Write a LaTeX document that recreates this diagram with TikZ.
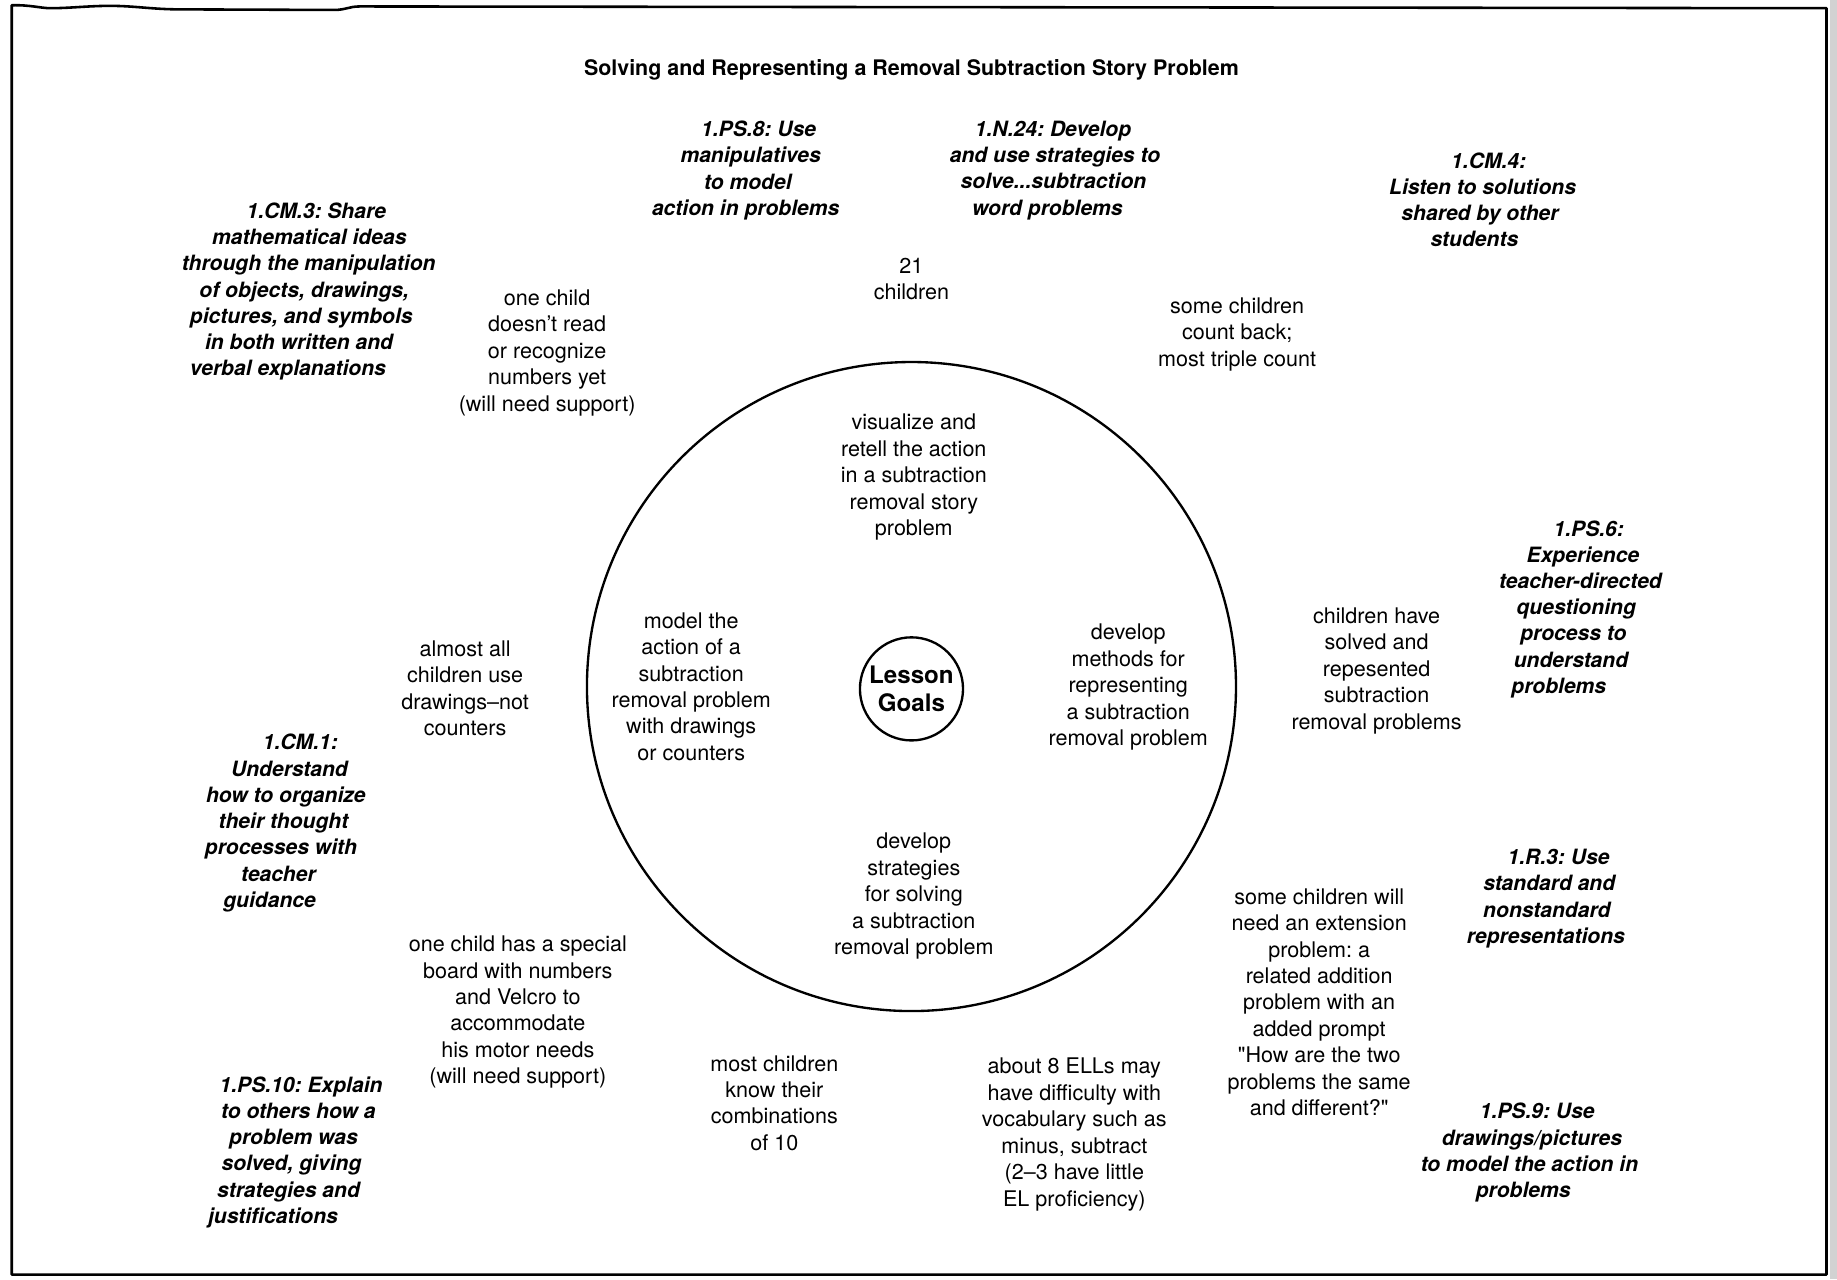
\documentclass[tikz,border=0pt]{standalone}
\usepackage{fontspec}
\newfontfamily\heros{TeX Gyre Heros}
\newdimen\upx \upx=0.5pt
\newcommand{\sh}[2]{\hspace*{#1\upx}#2\hspace*{-#1\upx}}
\tikzset{
  txt/.style={align=center, inner sep=0pt, font=\heros\frenchspacing\fontsize{9.2}{11.3}\selectfont},
  std/.style={align=center, inner sep=0pt, font=\heros\frenchspacing\fontsize{9}{11.2}\selectfont\bfseries\itshape},
  ttl/.style={inner sep=0pt, font=\heros\fontsize{9.15}{11}\selectfont\bfseries},
  ring/.style={circle, draw, line width=1pt, inner sep=0pt},
  frame/.style={line width=1.1pt, line join=round}
}
\begin{document}
\begin{tikzpicture}[x={(0.5pt,0)}, y={(0,-0.5pt)}]
\useasboundingbox (0,0) rectangle (1568,1092);
% frame with slightly wavy top edge, as scanned
\draw[frame] (10,1088) -- (10,4.5) .. controls (25,4) and (35,7) .. (43,7)
  .. controls (60,7) and (75,5) .. (94,5) .. controls (115,5) and (130,8) .. (154,8)
  -- (285,8.5) .. controls (295,8.5) and (298,5.5) .. (307,5.5) -- (1559,7) -- (1559,1088) -- cycle;
\fill[gray!35] (1562,0) rectangle (1568,1092);
% title
\node[ttl] (title) at (778,60) {Solving and Representing a Removal Subtraction Story Problem};
% circles
\node[ring, minimum size=277pt] (outer) at (778,586) {};
\node[ring, minimum size=44pt, font=\heros\fontsize{10.3}{12}\selectfont\bfseries, align=center] (lesson) at (778,588) {Lesson\\Goals};
% goals inside circle
\node[txt] (visualize) at (780,407.5) {visualize and\\retell the action\\in a subtraction\\removal story\\problem};
\node[txt] (model) at (590,586) {model the\\action of a\\subtraction\\removal problem\\with drawings\\or counters};
\node[txt] (methods) at (963,586.5) {develop\\methods for\\representing\\a subtraction\\removal problem};
\node[txt] (strategies) at (780,765) {develop\\strategies\\for solving\\a subtraction\\removal problem};
% student notes
\node[txt] (children21) at (778,238) {21\\children};
\node[txt] (onechild) at (467,301) {one child\\doesn’t read\\or recognize\\numbers yet\\(will need support)};
\node[txt] (countback) at (1056,285.5) {some children\\count back;\\most triple count};
\node[txt] (solved) at (1175,572.5) {children have\\solved and\\repesented\\subtraction\\removal problems};
\node[txt] (almost) at (397,587.5) {almost all\\children use\\drawings–not\\counters};
\node[txt] (extension) at (1126,855.5) {some children will\\need an extension\\problem: a\\related addition\\problem with an\\added prompt\\"How are the two\\problems the same\\and different?"};
\node[txt] (special) at (442,864) {one child has a special\\board with numbers\\and Velcro to\\accommodate\\his motor needs\\(will need support)};
\node[txt] (combos) at (661,941.5) {most children\\know their\\combinations\\of 10};
\node[txt] (ell) at (917,968.5) {about 8 ELLs may\\have difficulty with\\vocabulary such as\\minus, subtract\\(2–3 have little\\EL proficiency)};
% standards
\node[std] (ps8) at (636.5,145.5) {\sh{11}{1.PS.8: Use}\\\sh{8.4}{manipulatives}\\\sh{3.8}{to model}\\action in problems};
\node[std] (n24) at (900.5,145.5) {\sh{-1.7}{1.N.24: Develop}\\and use strategies to\\\sh{-2.6}{solve...subtraction}\\\sh{-6.5}{word problems}};
\node[std] (cm4) at (1265.5,170.5) {\sh{5.2}{1.CM.4:}\\Listen to solutions\\\sh{-4.4}{shared by other}\\\sh{-7}{students}};
\node[std] (cm3) at (263.5,249) {\sh{6.5}{1.CM.3: Share}\\\sh{1.1}{mathematical ideas}\\through the manipulation\\\sh{-7.6}{of objects, drawings,}\\\sh{-12.6}{pictures, and symbols}\\\sh{-16.4}{in both written and}\\\sh{-17.7}{verbal explanations}};
\node[std] (ps6) at (1349,520) {\sh{7.1}{1.PS.6:}\\\sh{4.3}{Experience}\\teacher-directed\\\sh{-7.1}{questioning}\\\sh{-12}{process to}\\\sh{-16.2}{understand}\\\sh{-18.5}{problems}};
\node[std] (cm1) at (244,702.5) {\sh{12.4}{1.CM.1:}\\\sh{6.1}{Understand}\\how to organize\\\sh{-4}{their thought}\\\sh{-8.4}{processes with}\\\sh{-12.7}{teacher}\\\sh{-13.9}{guidance}};
\node[std] (r3) at (1319.5,767) {\sh{10.8}{1.R.3: Use}\\\sh{5.8}{standard and}\\\sh{1.7}{nonstandard}\\representations};
\node[std] (ps10) at (257,983.5) {1.PS.10: Explain\\\sh{-4.6}{to others how a}\\\sh{-13}{problem was}\\\sh{-16.4}{solved, giving}\\\sh{-21.4}{strategies and}\\\sh{-24}{justifications}};
\node[std] (ps9) at (1305.5,984) {\sh{6.6}{1.PS.9: Use}\\\sh{4.1}{drawings/pictures}\\to model the action in\\\sh{-5.4}{problems}};
\end{tikzpicture}
\end{document}
